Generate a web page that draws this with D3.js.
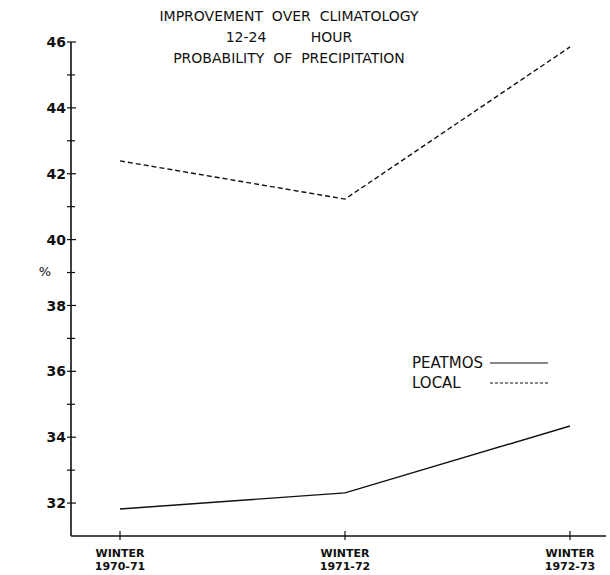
<!DOCTYPE html>
<html>
<head>
<meta charset="utf-8">
<script src="https://cdn.jsdelivr.net/npm/d3@7"></script>
<style>
  body { margin: 0; background: #fff; }
  text { font-family: "DejaVu Sans", sans-serif; fill: #111; }
</style>
</head>
<body>
<div id="chart"></div>
<script>
var width = 610;
var height = 575;

// values
var seasons = ["1970-71", "1971-72", "1972-73"];
var peatmos = [31.82, 32.31, 34.34];
var local = [42.39, 41.23, 45.85];
var yTicks = [32, 34, 36, 38, 40, 42, 44, 46];
var yMinor = [33, 35, 37, 39, 41, 43, 45];
var titleLines = ["IMPROVEMENT  OVER  CLIMATOLOGY", "12-24          HOUR", "PROBABILITY  OF  PRECIPITATION"];

var svg = d3.select("#chart").append("svg")
  .attr("width", width)
  .attr("height", height);

var x = d3.scalePoint()
  .domain(seasons)
  .range([120, 570]);

var y = d3.scaleLinear()
  .domain([31, 46])
  .range([536, 42]);

// axes lines
svg.append("line")
  .attr("x1", 71).attr("x2", 71)
  .attr("y1", y(46)).attr("y2", y(31))
  .attr("stroke", "#111").attr("stroke-width", 1.6);
svg.append("line")
  .attr("x1", 71).attr("x2", 606)
  .attr("y1", y(31)).attr("y2", y(31))
  .attr("stroke", "#111").attr("stroke-width", 1.6);

// y ticks crossing the axis
svg.selectAll(".ymaj")
  .data(yTicks)
  .enter().append("line")
  .attr("x1", 67).attr("x2", 76)
  .attr("y1", function(d) { return y(d); })
  .attr("y2", function(d) { return y(d); })
  .attr("stroke", "#111").attr("stroke-width", 1.2);
svg.selectAll(".ymin")
  .data(yMinor)
  .enter().append("line")
  .attr("x1", 67).attr("x2", 75)
  .attr("y1", function(d) { return y(d); })
  .attr("y2", function(d) { return y(d); })
  .attr("stroke", "#111").attr("stroke-width", 1.2);

svg.selectAll(".ylab")
  .data(yTicks)
  .enter().append("text")
  .attr("x", 66)
  .attr("y", function(d) { return y(d); })
  .attr("dy", "0.36em")
  .attr("text-anchor", "end")
  .attr("font-size", 14)
  .attr("font-weight", "bold")
  .text(function(d) { return d; });

svg.append("text")
  .attr("x", 45).attr("y", 276)
  .attr("text-anchor", "middle")
  .attr("font-size", 13)
  .text("%");

// x ticks
svg.selectAll(".xt")
  .data(seasons)
  .enter().append("line")
  .attr("x1", function(d) { return x(d); })
  .attr("x2", function(d) { return x(d); })
  .attr("y1", y(31) - 5).attr("y2", y(31) + 4)
  .attr("stroke", "#111").attr("stroke-width", 1.2);

var xl = svg.selectAll(".xl")
  .data(seasons)
  .enter().append("text")
  .attr("text-anchor", "middle")
  .attr("font-size", 11)
  .attr("font-weight", "bold");
xl.append("tspan")
  .attr("x", function(d) { return x(d); })
  .attr("y", 557)
  .text("WINTER");
xl.append("tspan")
  .attr("x", function(d) { return x(d); })
  .attr("y", 570)
  .text(function(d) { return d; });

// series
var line = d3.line()
  .x(function(d, i) { return x(seasons[i]); })
  .y(function(d) { return y(d); });

svg.append("path")
  .datum(peatmos)
  .attr("d", line)
  .attr("fill", "none")
  .attr("stroke", "#111")
  .attr("stroke-width", 1.4);

svg.append("path")
  .datum(local)
  .attr("d", line)
  .attr("fill", "none")
  .attr("stroke", "#111")
  .attr("stroke-width", 1.4)
  .attr("stroke-dasharray", "5,3");

// title
svg.selectAll(".title")
  .data(titleLines)
  .enter().append("text")
  .attr("x", 289)
  .attr("y", function(d, i) { return 21 + i * 21; })
  .attr("text-anchor", "middle")
  .attr("font-size", 14)
  .attr("xml:space", "preserve")
  .text(function(d) { return d; });

// legend
var legend = [["PEATMOS", null], ["LOCAL", "3,2"]];
var lg = svg.selectAll(".lg")
  .data(legend)
  .enter().append("g")
  .attr("transform", function(d, i) { return "translate(412," + (363 + i * 20) + ")"; });
lg.append("text")
  .attr("dy", "0.36em")
  .attr("font-size", 15)
  .text(function(d) { return d[0]; });
lg.append("line")
  .attr("x1", 78).attr("x2", 136)
  .attr("stroke", "#111").attr("stroke-width", 1.2)
  .attr("stroke-dasharray", function(d) { return d[1]; });
</script>
</body>
</html>
